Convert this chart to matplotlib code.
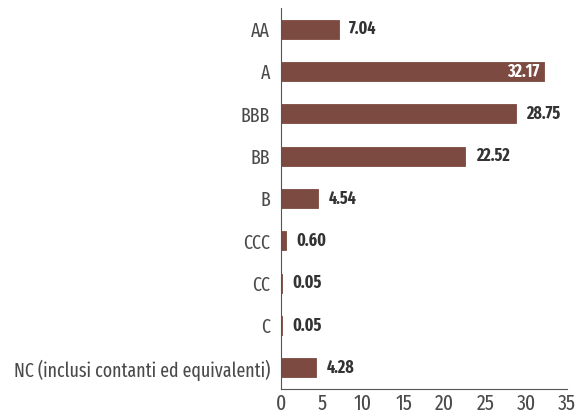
import matplotlib.pyplot as plt

categories = ['AA', 'A', 'BBB', 'BB', 'B', 'CCC', 'CC', 'C',
              'NC (inclusi contanti ed equivalenti)']
values = [7.04, 32.17, 28.75, 22.52, 4.54, 0.60, 0.05, 0.05, 4.28]
xticks = [0, 5, 10, 15, 20, 25, 30, 35]

plt.rcParams['font.family'] = ['Fira Sans Extra Condensed', 'DejaVu Sans']

bar_color = '#7c4a40'

fig = plt.figure(figsize=(5.81, 4.17), dpi=100)
ax = fig.add_axes([0.484, 0.067, 0.492, 0.914])

pos = list(range(len(categories)))
ax.barh(pos, values, height=0.45, color=bar_color,
        edgecolor=bar_color, linewidth=0.6)

for p, v in zip(pos, values):
    if v > 30:
        ax.text(v - 0.5, p, f'{v:.2f}', ha='right', va='center',
                color='white', fontsize=12.5, fontweight='bold')
    else:
        ax.text(v + 1.3, p, f'{v:.2f}', ha='left', va='center',
                color='#333333', fontsize=12.5, fontweight='bold')

ax.set_yticks(pos)
ax.set_yticklabels(categories, fontsize=14, color='#4a4a4a')
ax.tick_params(axis='y', length=0, pad=8)
ax.set_xticks(xticks)
ax.set_xticklabels([str(t) for t in xticks], fontsize=15.5, color='#4a4a4a')
ax.tick_params(axis='x', length=0, pad=3)
ax.set_xlim(0, 35)
ax.set_ylim(8.5, -0.5)
ax.spines['top'].set_visible(False)
ax.spines['right'].set_visible(False)
ax.spines['left'].set_color('#555555')
ax.spines['bottom'].set_color('#555555')

fig.savefig('out.png', dpi=100)
